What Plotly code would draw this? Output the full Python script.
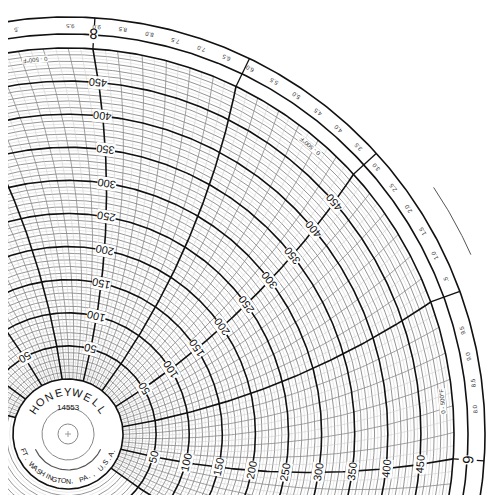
import numpy as np
import plotly.graph_objects as go

# ---- data ----
ring_values = list(range(0, 501, 10))          # chart value circles
major_values = list(range(0, 501, 50))
label_values = [50, 100, 150, 200, 250, 300, 350, 400, 450]
bold_angles = [175, 153, 130.8, 108.5, 86.3, 64.2, 42.3, 20, -3.7, -26]
labeled_angles = [130.8, 86.3, 42.3, -3.7]
day_labels = {86.3: "8", -3.7: "9"}
band_labels = ["2.0", "1.5", "1.0", ".5", "", "9.5", "9.0", "8.5", "8.0", "7.5", "7.0",
               "6.5", "6.0", "5.5", "5.0", "4.5", "4.0", "3.5", "3.0", "2.5", "2.0", "1.5",
               "1.0", ".5", "", "9.5", "9.0", "8.5", "8.0"]

CX, CY = 60, 426
R0, K = 55, 0.662
R = R0 + 500 * K
RA = 2.0 * R

def rad(v):
    return R0 + v * K

def curve_theta(theta0, r):
    tc = np.radians(theta0) + np.arccos(R / (2 * RA))
    return tc - np.arccos(r / (2 * RA))

def xy(r, th):
    return CX + r * np.cos(th), CY - r * np.sin(th)

fig = go.Figure()

def add_lines(segs, color, width):
    xs, ys = [], []
    for sx, sy in segs:
        xs += list(sx) + [None]
        ys += list(sy) + [None]
    fig.add_trace(go.Scatter(x=xs, y=ys, mode="lines", line=dict(color=color, width=width),
                             hoverinfo="skip", showlegend=False))

full = np.linspace(0, 2 * np.pi, 721)
add_lines([xy(rad(v + 5), full) for v in ring_values[:-1]], "#d0d0d0", 0.5)
add_lines([xy(rad(v), full) for v in ring_values if v % 50], "#7a7a7a", 0.8)

rr = np.linspace(R0, R, 120)
fine_light, fine_mid = [], []
for a0, a1 in zip(bold_angles[1:], bold_angles[:-1]):
    for i in range(1, 12):
        a = a0 + (a1 - a0) * i / 12
        (fine_light if i % 2 else fine_mid).append(a)
add_lines([xy(rr, curve_theta(a, rr)) for a in fine_light], "#c8c8c8", 0.5)
add_lines([xy(rr, curve_theta(a, rr)) for a in fine_mid], "#8a8a8a", 0.8)

add_lines([xy(rad(v), full) for v in major_values if v not in (0, 500)], "#111", 1.6)
add_lines([xy(rad(500), full), xy(R + 14, full), xy(R + 31, full)], "#111", 1.6)
add_lines([xy(rr, curve_theta(a, rr)) for a in bold_angles], "#111", 1.6)
add_lines([xy(np.array([R, R + 31]), np.radians([a, a])) for a in bold_angles], "#111", 1.3)
arc = np.radians(np.linspace(34, 24, 30))
add_lines([xy(R + 55, arc)], "#555", 1)

ann = []
def text(x, y, s, size, ang, color="#111", bg=None):
    ann.append(dict(x=x, y=y, text=s, showarrow=False, textangle=ang,
                    font=dict(size=size, color=color, family="Liberation Sans"),
                    bgcolor=bg, borderpad=0, xanchor="center", yanchor="middle"))

for a in labeled_angles:
    for v in label_values:
        r = rad(v)
        th = curve_theta(a, r)
        x, y = xy(r, th)
        if x < 8 or y > 488:
            continue
        text(x, y, str(v), 11, 270 - np.degrees(th), bg="white")

for a, s in day_labels.items():
    x, y = xy(R + 15, np.radians(a))
    text(x, y, s, 15, 270 - a, bg="white")

for i, s in enumerate(band_labels):
    a = 108.5 - i * 3.75
    if not s:
        continue
    x, y = xy(R + 22, np.radians(a))
    text(x, y, s, 6, 270 - a, color="#333")

for a in (95, 50, 5):
    x, y = xy(R - 10, np.radians(a))
    text(x, y, "0 - 500°F", 6, 270 - a, color="#333", bg="white")

th = np.linspace(0, 2 * np.pi, 200)
fig.add_trace(go.Scatter(x=list(CX + R0 * np.cos(th)), y=list(CY - R0 * np.sin(th)), fill="toself",
                         fillcolor="white", mode="lines", line=dict(color="#111", width=1.6),
                         hoverinfo="skip", showlegend=False))
add_lines([xy(26, full), xy(10, full)], "#888", 1)
add_lines([xy(36, np.radians(np.linspace(205, 335, 60)))], "#555", 1.2)
add_lines([([CX - 3, CX + 3], [CY, CY]), ([CX, CX], [CY - 3, CY + 3])], "#888", 0.8)

word = "HONEYWELL"
for i, c in enumerate(word):
    a = 145 - i * (110 / (len(word) - 1))
    x, y = xy(42, np.radians(a))
    text(x, y, c, 11, 90 - a)
text(CX, CY - 27, "14553", 8, 0)
word2 = "FT. WASHINGTON, PA., U.S.A."
for i, c in enumerate(word2):
    a = 200 + i * (140 / (len(word2) - 1))
    x, y = xy(47, np.radians(a))
    text(x, y, c, 7, 270 - a)

fig.update_layout(width=494, height=495, margin=dict(l=0, r=0, t=0, b=0),
                  plot_bgcolor="white", paper_bgcolor="white", annotations=ann,
                  xaxis=dict(range=[0, 494], visible=False, fixedrange=True),
                  yaxis=dict(range=[495, 0], visible=False, fixedrange=True))
fig.write_html("out.html")
